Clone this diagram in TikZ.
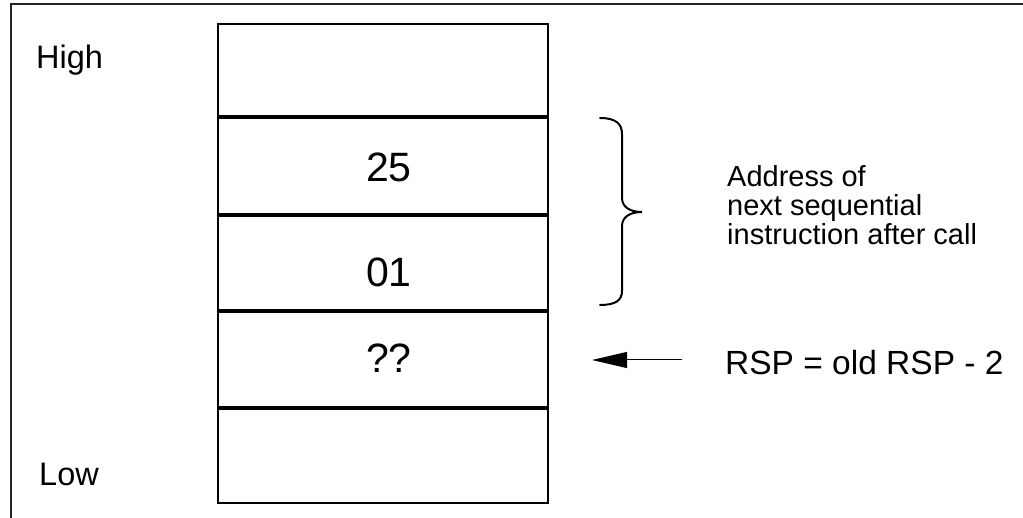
\documentclass[tikz,border=0pt]{standalone}
\usepackage{fontspec}
\setmainfont{Liberation Sans}
\usetikzlibrary{arrows.meta}
\begin{document}
\begin{tikzpicture}[x=1pt,y=-1pt,
  cell/.style={draw, line width=2pt, minimum width=330pt, inner sep=0pt, anchor=north west},
  sep/.style={line width=3pt},
  side/.style={font=\fontsize{32.5}{36}\selectfont, anchor=base west, inner sep=0pt},
  val/.style={font=\fontsize{41}{44}\selectfont, anchor=base, inner sep=0pt},
  note/.style={font=\fontsize{29}{29}\selectfont, anchor=base west, inner sep=0pt, align=left},
  rsp/.style={font=\fontsize{33.5}{36}\selectfont, anchor=base west, inner sep=0pt}]
\useasboundingbox (0,0) rectangle (1023,518);
% frame
\draw[line width=2pt, black!85] (1023,4) -- (11,4) -- (11,518);
% stack cells
\node[cell, minimum height=94pt] (c1) at (217,23) {};
\node[cell, minimum height=98pt] (c2) at (217,117) {};
\node[cell, minimum height=96pt] (c3) at (217,215) {};
\node[cell, minimum height=97pt] (c4) at (217,311) {};
\node[cell, minimum height=94pt] (c5) at (217,408) {};
\draw[sep] (c2.north west) -- (c2.north east);
\draw[sep] (c3.north west) -- (c3.north east);
\draw[sep] (c4.north west) -- (c4.north east);
\draw[sep] (c5.north west) -- (c5.north east);
% values
\node[val] (v25) at (389,182) {25};
\node[val] (v01) at (389,287) {01};
\node[val] (vqq) at (389,373) {??};
% side labels
\node[side] (high) at (36,69) {High};
\node[side] (low) at (39,485) {Low};
% brace
\draw[line width=2pt, line cap=round]
  (600,118) .. controls (616,118) and (622,124) .. (622,134)
  -- (622,198) .. controls (622,207) and (630,212) .. (642,212)
  .. controls (630,212) and (622,217) .. (622,226)
  -- (622,291) .. controls (622,300) and (616,305) .. (600,305);
\node[note] (addr) at (727,245) {Address of\\next sequential\\instruction after call};
% RSP
\node[rsp] (rspl) at (725,375) {RSP = old RSP - 2};
\coordinate (atail) at (682,360);
\coordinate (ahead) at (592,360);
\draw[line width=1pt, -{Triangle[length=35pt,width=16pt]}] (atail) -- (ahead);
\end{tikzpicture}
\end{document}
